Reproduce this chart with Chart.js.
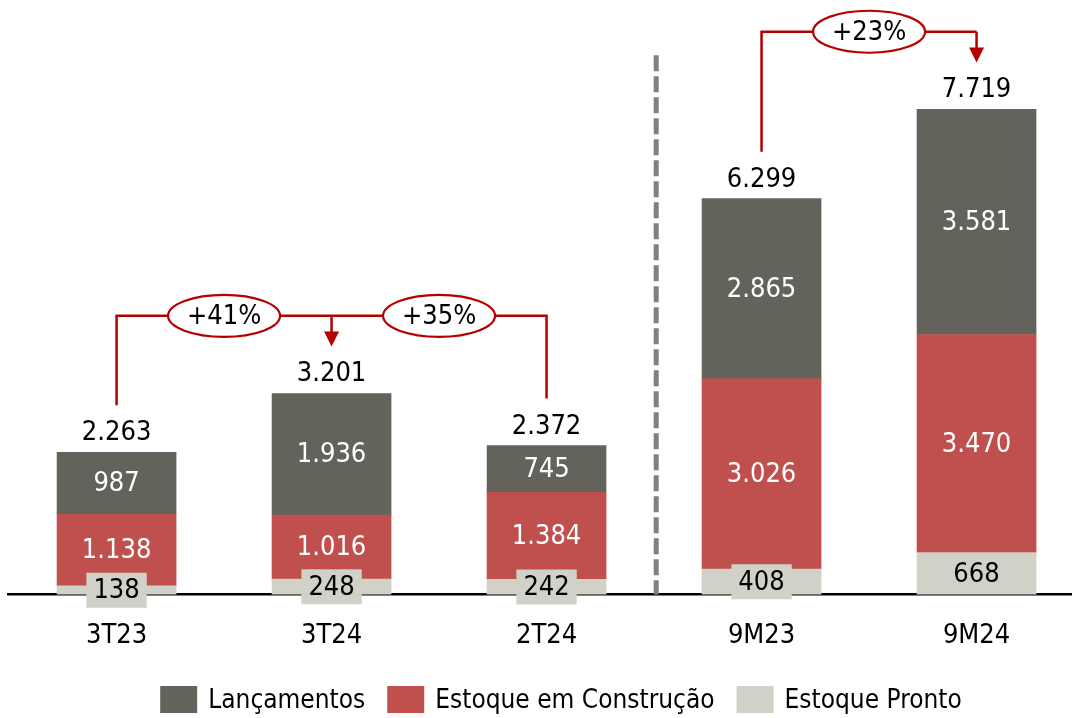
<!DOCTYPE html>
<html>
<head>
<meta charset="utf-8">
<script src="https://cdn.jsdelivr.net/npm/chart.js@4.4.1/dist/chart.umd.min.js"></script>
<style>
  html, body { margin: 0; padding: 0; background: #fff; }
</style>
</head>
<body>
<canvas id="chart" width="1072" height="718"></canvas>
<script>
const categories = ['3T23', '3T24', '2T24', '9M23', '9M24'];
const lancamentos = [987, 1936, 745, 2865, 3581];
const construcao = [1138, 1016, 1384, 3026, 3470];
const pronto = [138, 248, 242, 408, 668];
const totals = [2263, 3201, 2372, 6299, 7719];
const growth = ['+41%', '+35%', '+23%'];

const FONT = '"DejaVu Sans Condensed", "DejaVu Sans", sans-serif';
const RED = '#b40000';

const fmt = v => String(v).replace(/\B(?=(\d{3})+(?!\d))/g, '.');
const pts = arr => arr.map((v, i) => ({ x: i, y: v }));

function arrowDown(ctx, x, y0, y1) {
    ctx.beginPath();
    ctx.moveTo(x, y0);
    ctx.lineTo(x, y1 - 14);
    ctx.stroke();
    ctx.beginPath();
    ctx.moveTo(x - 7.5, y1 - 15);
    ctx.lineTo(x + 7.5, y1 - 15);
    ctx.lineTo(x, y1);
    ctx.closePath();
    ctx.fill();
}

function bubble(ctx, x, y, text) {
    ctx.beginPath();
    ctx.ellipse(x, y, 56, 21, 0, 0, Math.PI * 2);
    ctx.fillStyle = '#fff';
    ctx.fill();
    ctx.stroke();
    ctx.fillStyle = '#000';
    ctx.fillText(text, x, y + 1);
}

const overlay = {
    id: 'overlay',
    afterDraw(chart) {
        const ctx = chart.ctx;
        const xs = chart.scales.x, ys = chart.scales.y;
        const area = chart.chartArea;
        const datasets = chart.data.datasets;
        ctx.save();

        // dashed divider between quarters and 9M
        const sx = xs.getPixelForValue(2.51);
        ctx.strokeStyle = '#808080';
        ctx.lineWidth = 5;
        ctx.setLineDash([16, 5]);
        ctx.beginPath();
        ctx.moveTo(sx, ys.getPixelForValue(8580));
        ctx.lineTo(sx, area.bottom);
        ctx.stroke();
        ctx.setLineDash([]);

        ctx.font = '27px ' + FONT;
        ctx.textAlign = 'center';
        ctx.textBaseline = 'middle';

        // values inside the segments
        datasets.forEach((ds, di) => {
            chart.getDatasetMeta(di).data.forEach((bar, i) => {
                const cy = (bar.y + bar.base) / 2;
                const txt = fmt(ds.data[i].y);
                if (ds.boxedLabel) {
                    const w = ctx.measureText(txt).width + 14;
                    ctx.fillStyle = ds.backgroundColor;
                    ctx.fillRect(bar.x - w / 2, cy - 17.5, w, 35);
                    ctx.fillStyle = '#000';
                } else {
                    ctx.fillStyle = '#fff';
                }
                ctx.fillText(txt, bar.x, cy + 1);
            });
        });

        // totals on top
        const top = chart.getDatasetMeta(datasets.length - 1).data;
        ctx.fillStyle = '#000';
        top.forEach((bar, i) => ctx.fillText(fmt(totals[i]), bar.x, bar.y - 19));

        // growth brackets
        const tip = i => top[i].y - 47;
        const lvl1 = ys.getPixelForValue(4435);
        const lvl2 = ys.getPixelForValue(8955);
        ctx.strokeStyle = RED;
        ctx.fillStyle = RED;
        ctx.lineWidth = 2.5;
        ctx.beginPath();
        ctx.moveTo(top[0].x, tip(0));
        ctx.lineTo(top[0].x, lvl1);
        ctx.lineTo(top[2].x, lvl1);
        ctx.lineTo(top[2].x, tip(2));
        ctx.stroke();
        arrowDown(ctx, top[1].x, lvl1, tip(1));

        ctx.beginPath();
        ctx.moveTo(top[3].x, tip(3));
        ctx.lineTo(top[3].x, lvl2);
        ctx.lineTo(top[4].x, lvl2);
        ctx.stroke();
        arrowDown(ctx, top[4].x, lvl2, tip(4));

        ctx.lineWidth = 2.2;
        bubble(ctx, xs.getPixelForValue(0.5), lvl1, growth[0]);
        bubble(ctx, xs.getPixelForValue(1.5), lvl1, growth[1]);
        bubble(ctx, xs.getPixelForValue(3.5), lvl2, growth[2]);

        // legend
        ctx.font = '26px ' + FONT;
        const items = datasets.slice().reverse();
        const boxW = 37, boxH = 27, gap = 11, spacing = 22;
        const widths = items.map(d => boxW + gap + ctx.measureText(d.label).width);
        const total = widths.reduce((a, b) => a + b, 0) + spacing * (items.length - 1);
        let lx = 561 - total / 2;
        ctx.textAlign = 'left';
        items.forEach((d, i) => {
            ctx.fillStyle = d.backgroundColor;
            ctx.fillRect(lx, 686, boxW, boxH);
            ctx.fillStyle = '#000';
            ctx.fillText(d.label, lx + boxW + gap, 701);
            lx += widths[i] + spacing;
        });

        ctx.restore();
    }
};

new Chart(document.getElementById('chart'), {
    type: 'bar',
    data: {
        datasets: [
            { label: 'Estoque Pronto', data: pts(pronto), backgroundColor: '#d1d1c7', boxedLabel: true },
            { label: 'Estoque em Construção', data: pts(construcao), backgroundColor: '#c0504d' },
            { label: 'Lançamentos', data: pts(lancamentos), backgroundColor: '#64635b' }
        ]
    },
    options: {
        responsive: false,
        animation: false,
        barThickness: 119,
        layout: { padding: { left: 8, right: 0, top: 0, bottom: 41 } },
        plugins: { legend: { display: false }, tooltip: { enabled: false } },
        scales: {
            x: {
                type: 'linear',
                offset: false,
                min: -0.505,
                max: 4.444,
                stacked: true,
                z: 1,
                afterBuildTicks: s => { s.ticks = categories.map((c, i) => ({ value: i })); },
                ticks: {
                    callback: v => categories[v],
                    font: { family: FONT, size: 27 },
                    color: '#000',
                    padding: 25,
                    maxRotation: 0,
                    autoSkip: false
                },
                grid: { display: false, drawTicks: false },
                border: { display: true, color: '#000', width: 2.5 }
            },
            y: {
                display: false,
                stacked: true,
                min: 0,
                max: 9460
            }
        }
    },
    plugins: [overlay]
});
</script>
</body>
</html>
